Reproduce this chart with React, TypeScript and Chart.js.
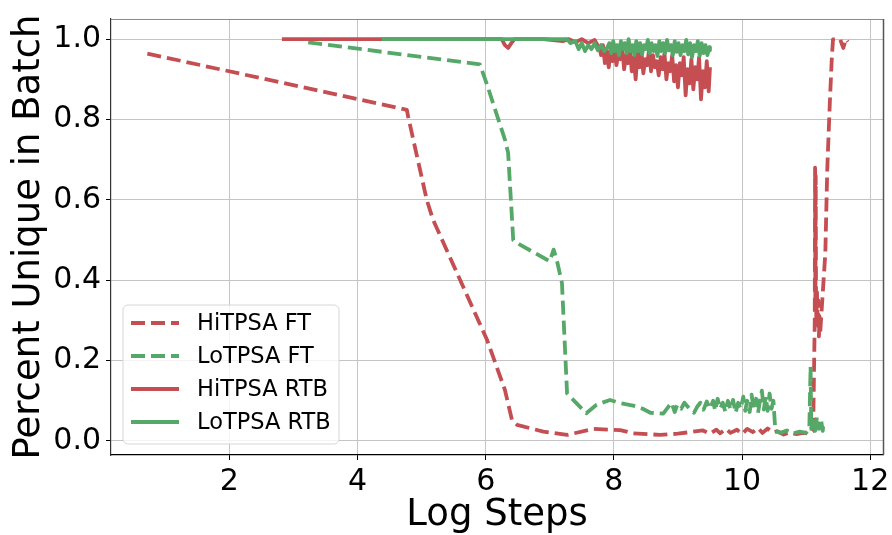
import { useEffect, useRef } from "react";
import { Chart, registerables } from "chart.js";
Chart.register(...registerables);

const FONT = "DejaVu Sans";
const RED = "#C44E52";
const GREEN = "#55A868";

const xTicks = [2, 4, 6, 8, 10, 12];
const yTicks = [0, 0.2, 0.4, 0.6, 0.8, 1.0];
const seriesNames = ["HiTPSA FT", "LoTPSA FT", "HiTPSA RTB", "LoTPSA RTB"];
const xTitle = "Log Steps";
const yTitle = "Percent Unique in Batch";

// [log step, fraction unique]
const hiFt: [number, number][] = [
  [0.72, 0.964], [4.77, 0.824], [4.79, 0.807], [5.08, 0.6], [5.18, 0.55], [6.02, 0.252],
  [6.3, 0.127], [6.41, 0.052], [6.49, 0.04], [6.9, 0.023], [7.27, 0.015], [7.68, 0.03],
  [8.1, 0.027], [8.3, 0.019], [8.72, 0.015], [9.0, 0.018], [9.14, 0.021], [9.39, 0.026],
  [9.5, 0.018], [9.6, 0.028], [9.66, 0.019], [9.75, 0.03], [9.82, 0.02], [9.92, 0.028],
  [10.0, 0.017], [10.08, 0.03], [10.17, 0.022], [10.25, 0.032], [10.32, 0.02], [10.4, 0.031],
  [10.47, 0.021], [10.55, 0.024], [10.65, 0.016], [10.75, 0.021], [10.85, 0.017], [10.95, 0.02],
  [11.05, 0.018], [11.11, 0.025], [11.135, 0.3], [11.14, 0.68], [11.145, 0.34], [11.15, 0.66],
  [11.155, 0.36], [11.16, 0.3], [11.17, 0.37], [11.18, 0.28], [11.19, 0.35], [11.2, 0.26],
  [11.21, 0.31], [11.22, 0.27], [11.3, 0.467], [11.33, 0.675], [11.37, 0.841], [11.4, 0.949],
  [11.42, 0.999], [11.53, 1.0], [11.58, 0.978], [11.62, 1.0], [11.65, 0.993],
];

const loFt: [number, number][] = [
  [3.23, 0.992], [5.91, 0.937], [6.02, 0.887], [6.3, 0.75], [6.35, 0.717], [6.43, 0.5],
  [6.54, 0.488], [7.0, 0.447], [7.06, 0.476], [7.11, 0.45], [7.19, 0.393], [7.27, 0.118],
  [7.57, 0.069], [7.73, 0.09], [7.94, 0.102], [8.1, 0.094], [8.3, 0.088], [8.45, 0.08],
  [8.57, 0.07], [8.77, 0.068], [8.85, 0.085], [8.9, 0.095], [8.95, 0.072], [8.99, 0.09],
  [9.05, 0.08], [9.1, 0.095], [9.19, 0.078], [9.25, 0.07], [9.3, 0.085], [9.35, 0.095],
  [9.4, 0.078], [9.45, 0.098], [9.5, 0.08], [9.55, 0.1], [9.58, 0.075], [9.62, 0.105],
  [9.66, 0.08], [9.7, 0.095], [9.74, 0.072], [9.78, 0.1], [9.82, 0.078], [9.86, 0.102],
  [9.9, 0.07], [9.94, 0.095], [9.98, 0.08], [10.02, 0.11], [10.05, 0.075], [10.08, 0.1],
  [10.12, 0.072], [10.15, 0.115], [10.18, 0.08], [10.22, 0.105], [10.25, 0.07], [10.28, 0.1],
  [10.31, 0.125], [10.34, 0.078], [10.37, 0.11], [10.4, 0.075], [10.43, 0.118], [10.46, 0.08],
  [10.49, 0.1], [10.52, 0.025], [10.6, 0.02], [10.7, 0.026], [10.8, 0.019], [10.9, 0.023],
  [11.0, 0.02], [11.05, 0.03], [11.07, 0.185], [11.08, 0.03], [11.11, 0.05], [11.14, 0.025],
  [11.17, 0.06], [11.2, 0.03], [11.23, 0.055], [11.26, 0.025], [11.27, 0.045],
];

const hiRtb: [number, number][] = [
  [2.82, 1.0], [6.25, 1.0], [6.3, 0.985], [6.35, 0.978], [6.4, 0.99], [6.45, 1.0], [6.9, 1.0],
  [7.2, 0.995], [7.3, 1.0], [7.4, 0.992], [7.5, 1.0], [7.6, 0.99], [7.7, 0.998], [7.78, 0.975],
  [7.8, 0.96], [7.83, 0.985], [7.86, 0.94], [7.89, 0.97], [7.92, 0.93], [7.95, 0.975],
  [7.98, 0.945], [8.01, 0.98], [8.04, 0.935], [8.07, 0.965], [8.1, 0.95], [8.13, 0.98],
  [8.16, 0.925], [8.19, 0.96], [8.22, 0.94], [8.25, 0.975], [8.28, 0.92], [8.31, 0.955],
  [8.34, 0.9], [8.37, 0.965], [8.4, 0.93], [8.43, 0.97], [8.46, 0.915], [8.49, 0.95],
  [8.52, 0.935], [8.55, 0.975], [8.58, 0.92], [8.61, 0.96], [8.64, 0.93], [8.67, 0.945],
  [8.7, 0.91], [8.73, 0.955], [8.76, 0.925], [8.79, 0.965], [8.82, 0.9], [8.85, 0.94],
  [8.88, 0.92], [8.91, 0.96], [8.94, 0.895], [8.97, 0.935], [9.0, 0.88], [9.03, 0.94],
  [9.06, 0.91], [9.09, 0.955], [9.12, 0.86], [9.15, 0.925], [9.18, 0.89], [9.21, 0.95],
  [9.24, 0.875], [9.27, 0.93], [9.3, 0.9], [9.33, 0.955], [9.36, 0.85], [9.39, 0.92],
  [9.42, 0.88], [9.45, 0.945], [9.48, 0.87], [9.5, 0.93],
];

const loRtb: [number, number][] = [
  [4.38, 1.0], [7.27, 1.0], [7.32, 0.99], [7.4, 0.995], [7.45, 0.975], [7.5, 0.99],
  [7.55, 0.97], [7.6, 0.985], [7.65, 0.975], [7.7, 0.99], [7.75, 0.972], [7.8, 0.985],
  [7.85, 0.97], [7.9, 0.98], [7.93, 0.99], [7.96, 0.965], [7.99, 0.995], [8.02, 0.97],
  [8.05, 0.985], [8.08, 0.96], [8.11, 0.995], [8.14, 0.975], [8.17, 0.99], [8.2, 0.965],
  [8.23, 1.0], [8.26, 0.97], [8.29, 0.985], [8.32, 0.96], [8.35, 0.995], [8.38, 0.97],
  [8.41, 0.99], [8.44, 0.962], [8.47, 0.985], [8.5, 0.975], [8.53, 0.998], [8.56, 0.965],
  [8.59, 0.99], [8.62, 0.97], [8.65, 0.985], [8.68, 0.958], [8.71, 0.995], [8.74, 0.97],
  [8.77, 0.99], [8.8, 0.965], [8.83, 0.998], [8.86, 0.972], [8.89, 0.985], [8.92, 0.96],
  [8.95, 0.995], [8.98, 0.968], [9.01, 0.99], [9.04, 0.96], [9.07, 0.985], [9.1, 0.97],
  [9.13, 0.998], [9.16, 0.962], [9.19, 0.99], [9.22, 0.955], [9.25, 0.985], [9.28, 0.97],
  [9.31, 0.995], [9.34, 0.958], [9.37, 0.99], [9.4, 0.965], [9.43, 0.985], [9.46, 0.96],
  [9.49, 0.98], [9.5, 0.972],
];

const DASH = [14, 6];
const LW = 3.8;

const frameLegendPlugin = {
  id: "frameLegend",
  afterDatasetsDraw(chart: any) {
    const { ctx, chartArea } = chart;
    const { left, right, top, bottom } = chartArea;
    ctx.save();
    // top and right spines
    ctx.lineWidth = 1;
    ctx.strokeStyle = "#8a8a8a";
    ctx.beginPath();
    ctx.moveTo(left, top + 0.5);
    ctx.lineTo(right, top + 0.5);
    ctx.stroke();
    ctx.lineWidth = 1.5;
    ctx.strokeStyle = "#555";
    ctx.beginPath();
    ctx.moveTo(right + 0.5, top);
    ctx.lineTo(right + 0.5, bottom);
    ctx.stroke();

    // legend
    const bw = 216, bh = 139, r = 5;
    const bx = left + 12, by = bottom - 11 - bh;
    ctx.beginPath();
    ctx.moveTo(bx + r, by);
    ctx.arcTo(bx + bw, by, bx + bw, by + bh, r);
    ctx.arcTo(bx + bw, by + bh, bx, by + bh, r);
    ctx.arcTo(bx, by + bh, bx, by, r);
    ctx.arcTo(bx, by, bx + bw, by, r);
    ctx.closePath();
    ctx.fillStyle = "rgba(255,255,255,0.8)";
    ctx.fill();
    ctx.strokeStyle = "#d6d6d6";
    ctx.lineWidth = 1;
    ctx.stroke();

    const ds = chart.data.datasets;
    const legendOrder = [0, 1, 2, 3];
    legendOrder.forEach((i, k) => {
      const d = ds[i];
      const cy = by + 18 + k * 33;
      ctx.strokeStyle = d.borderColor;
      ctx.lineWidth = LW;
      ctx.lineCap = "butt";
      ctx.setLineDash(d.borderDash || []);
      ctx.beginPath();
      ctx.moveTo(bx + 8, cy);
      ctx.lineTo(bx + 56, cy);
      ctx.stroke();
      ctx.setLineDash([]);
      ctx.fillStyle = "#000";
      ctx.font = `22.5px "${FONT}"`;
      ctx.textAlign = "left";
      ctx.textBaseline = "middle";
      ctx.fillText(d.label, bx + 74, cy + 1);
    });
    ctx.restore();
  },
};

export default function App() {
  const ref = useRef<HTMLCanvasElement | null>(null);
  useEffect(() => {
    document.body.style.margin = "0";
    const toPts = (a: [number, number][]) => a.map(([x, y]) => ({ x, y }));
    const chart = new Chart(ref.current!, {
      type: "line",
      data: {
        datasets: [
          { label: seriesNames[0], data: toPts(hiFt), borderColor: RED, borderDash: DASH, order: 3 },
          { label: seriesNames[1], data: toPts(loFt), borderColor: GREEN, borderDash: DASH, order: 2 },
          { label: seriesNames[2], data: toPts(hiRtb), borderColor: RED, order: 1 },
          { label: seriesNames[3], data: toPts(loRtb), borderColor: GREEN, order: 0 },
        ].map((d) => ({
          ...d,
          borderWidth: LW,
          pointRadius: 0,
          tension: 0,
          fill: false,
          borderJoinStyle: "round" as const,
          borderCapStyle: "butt" as const,
        })),
      },
      options: {
        animation: false,
        responsive: false,
        devicePixelRatio: 1,
        layout: { padding: { left: 0, right: 9, top: 19, bottom: 0 } },
        plugins: { legend: { display: false }, tooltip: { enabled: false }, title: { display: false } },
        scales: {
          x: {
            type: "linear",
            min: 0.153,
            max: 12.2,
            afterBuildTicks: (s: any) => { s.ticks = xTicks.map((v) => ({ value: v })); },
            afterFit: (s: any) => { s.height = 80; s.paddingLeft = 0; s.paddingRight = 0; },
            ticks: { font: { family: FONT, size: 30 }, color: "#000", padding: 4, maxRotation: 0, autoSkip: false },
            grid: { color: "#c4c4c4", lineWidth: 1, tickColor: "#000", tickLength: 5 },
            border: { display: true, color: "#000", width: 1.2 },
            title: { display: true, text: xTitle, color: "#000", font: { family: FONT, size: 37, lineHeight: 1.05 }, padding: { top: 0, bottom: 0 } },
          },
          y: {
            type: "linear",
            min: -0.035,
            max: 1.05,
            afterBuildTicks: (s: any) => { s.ticks = yTicks.map((v) => ({ value: v })); },
            afterFit: (s: any) => { s.width = 111; s.paddingTop = 0; s.paddingBottom = 0; },
            ticks: { font: { family: FONT, size: 30 }, color: "#000", padding: 5, autoSkip: false, callback: (v: any) => Number(v).toFixed(1) },
            grid: { color: "#c4c4c4", lineWidth: 1, tickColor: "#000", tickLength: 5 },
            border: { display: true, color: "#333", width: 1.2 },
            title: { display: true, text: yTitle, color: "#000", font: { family: FONT, size: 37 }, padding: { top: 7, bottom: 0 } },
          },
        },
      },
      plugins: [frameLegendPlugin],
    });
    return () => chart.destroy();
  }, []);
  return (
    <div style={{ position: "absolute", left: 0, top: 0, width: 892, height: 535, background: "#fff" }}>
      <canvas ref={ref} width={892} height={535} />
    </div>
  );
}
